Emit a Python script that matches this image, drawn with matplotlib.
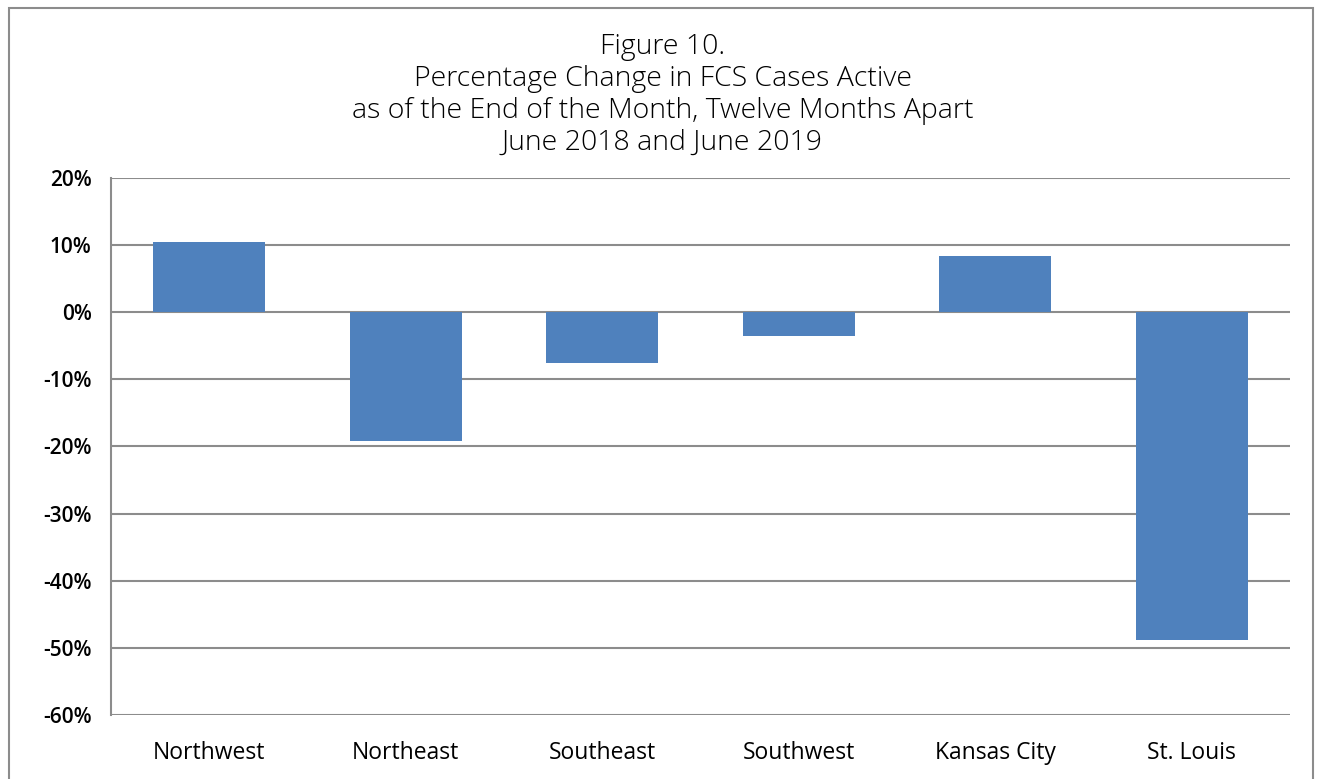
import matplotlib.pyplot as plt
from matplotlib.patches import Rectangle
from matplotlib.ticker import PercentFormatter

plt.rcParams['axes.unicode_minus'] = False

regions = ['Northwest', 'Northeast', 'Southeast', 'Southwest', 'Kansas City', 'St. Louis']
pct_change = [10.5, -19.2, -7.6, -3.6, 8.4, -48.9]
title_lines = ['Figure 10.',
               'Percentage Change in FCS Cases Active',
               'as of the End of the Month, Twelve Months Apart',
               'June 2018 and June 2019']

fig = plt.figure(figsize=(13.25, 7.79), dpi=100)
ax = fig.add_axes([111 / 1325, 1 - 715 / 779, (1290 - 111) / 1325, (715 - 178) / 779])

ax.bar(range(len(regions)), pct_change, width=0.57, color='#4f81bd', zorder=3)

ax.set_xlim(-0.5, len(regions) - 0.5)
ax.set_ylim(-60, 20)
ax.set_yticks(range(-60, 21, 10))
ax.yaxis.set_major_formatter(PercentFormatter(decimals=0))
ax.set_xticks(range(len(regions)))
ax.set_xticklabels(regions, fontsize=16.5, family='Open Sans')
for lab in ax.get_yticklabels():
    lab.set_fontsize(15)
    lab.set_fontweight('semibold')
    lab.set_family('Open Sans')
ax.tick_params(length=0, pad=14)
ax.tick_params(axis='x', pad=19)
ax.grid(axis='y', color='#8c8c8c', linewidth=1.5, zorder=0)
for s in ['top', 'right', 'bottom']:
    ax.spines[s].set_visible(False)
ax.spines['left'].set_color('#8c8c8c')
ax.spines['left'].set_linewidth(1.5)

# title: one line each, 32 px apart
for i, line in enumerate(title_lines):
    fig.text(0.5, 1 - (47 + 32 * i) / 779, line, ha='center', va='center',
             fontsize=20.5, family='Open Sans', fontweight='light', color='#000000')

fig.patches.append(Rectangle((9 / 1325, -0.01), (1313 - 9) / 1325, 1 - 8 / 779 + 0.01,
                             transform=fig.transFigure, fill=False,
                             edgecolor='#8c8c8c', linewidth=1.5))

fig.savefig('out.png', dpi=100)
